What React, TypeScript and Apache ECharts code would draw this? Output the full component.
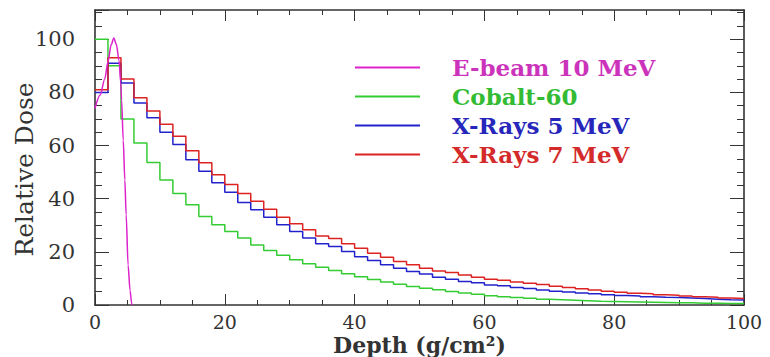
import React, { useEffect, useRef } from "react";
import * as echarts from "echarts";

// ---- data ----
const BIN_WIDTH = 2; // g/cm^2

const seriesNames = ["E-beam 10 MeV", "Cobalt-60", "X-Rays 5 MeV", "X-Rays 7 MeV"];

const ebeamDepth = [0, 0.8, 1.5, 2.0, 2.5, 2.9, 3.3, 3.7, 3.95, 4.1, 4.35, 4.6, 4.8, 5.1, 5.4, 5.65, 5.8];
const ebeamDose = [74, 79, 85, 91.5, 98, 100.5, 98, 92, 84, 77, 62, 47, 34, 15, 5.5, 0.5, 0];

const cobaltDose = [
  100, 90, 70, 61, 53.6, 47, 42, 37.7, 33.3, 30.2,
  27.7, 25.2, 22.6, 20.5, 18.7, 17, 15.5, 14.2, 13, 11.8,
  10.6, 9.6, 8.7, 7.8, 7.0, 6.3, 5.7, 5.1, 4.5, 4.0,
  3.5, 3.1, 2.8, 2.5, 2.2, 2.0, 1.8, 1.6, 1.4, 1.3,
  1.2, 1.1, 1.0, 0.9, 0.8, 0.8, 0.7, 0.7, 0.6, 0.6,
];

const xray5Dose = [
  80, 91, 83.5, 76, 70.5, 65, 60.4, 54.7, 50.3, 46,
  42.4, 38.6, 35.8, 33, 30.2, 27.7, 25.2, 23, 22, 20.1,
  18.2, 16.7, 15.1, 13.8, 12.6, 11.7, 10.4, 9.7, 8.8, 8.4,
  7.5, 7.2, 6.6, 6.2, 5.6, 5.2, 4.9, 4.5, 4.2, 3.9,
  3.6, 3.4, 3.1, 2.9, 2.8, 2.6, 2.4, 2.2, 2.0, 1.9,
];

const xray7Dose = [
  81, 93, 85, 78, 73, 68, 63.5, 58, 53.5, 49,
  45.3, 42, 39, 36, 33, 30.6, 28.3, 26, 25, 23,
  21.4, 19.5, 18, 16.4, 15.1, 13.8, 12.8, 12.2, 11.3, 10.4,
  9.7, 9.3, 8.7, 8.2, 7.7, 7.1, 6.6, 6.1, 5.6, 5.2,
  4.8, 4.4, 4.2, 3.9, 3.7, 3.4, 3.1, 2.9, 2.6, 2.4,
];

const xTicks = [0, 20, 40, 60, 80, 100];
const yTicks = [0, 20, 40, 60, 80, 100];

const colors = ["#dd22cc", "#33cc33", "#2222cc", "#dd2222"];
const textColors = ["#cc33bb", "#33bb33", "#2626bb", "#d42a2a"];

const FONT = "'DejaVu Serif', 'Liberation Serif', serif";
const AXIS_COLOR = "#333333";

function histData(values: number[]) {
  const pts = values.map((v, i) => [i * BIN_WIDTH, v]);
  pts.push([values.length * BIN_WIDTH, values[values.length - 1]]);
  return pts;
}

export default function App() {
  const ref = useRef<HTMLDivElement>(null);
  useEffect(() => {
    document.body.style.margin = "0";
    if (!ref.current) return;
    const chart = echarts.init(ref.current, null, { renderer: "svg" });

    const axisCommon = {
      type: "value" as const,
      axisLine: { show: true, onZero: false, lineStyle: { color: AXIS_COLOR, width: 1.6 } },
      splitLine: { show: false },
    };

    const xMin = xTicks[0];
    const xMax = xTicks[xTicks.length - 1];
    const xInterval = xTicks[1] - xTicks[0];
    const yInterval = yTicks[1] - yTicks[0];

    chart.setOption({
      animation: false,
      backgroundColor: "#ffffff",
      grid: { left: 95, right: 26, top: 10, bottom: 52, containLabel: false, outerBoundsMode: "none" },
      legend: {
        orient: "vertical",
        left: 355,
        top: 56,
        padding: 0,
        icon: "rect",
        itemWidth: 65,
        itemHeight: 2,
        itemGap: 6,
        data: seriesNames.map((n, i) => ({ name: n, textStyle: { color: textColors[i] } })),
        textStyle: {
          fontFamily: FONT,
          fontSize: 23,
          fontWeight: "bold",
          lineHeight: 22,
          padding: [0, 0, 0, 27],
        },
      },
      xAxis: [
        {
          ...axisCommon,
          position: "bottom",
          min: xMin,
          max: xMax,
          interval: xInterval,
          name: "Depth (g/cm²)",
          nameLocation: "middle",
          nameGap: 29,
          nameMoveOverlap: false,
          nameTextStyle: { fontFamily: FONT, fontSize: 22, lineHeight: 22, color: AXIS_COLOR, fontWeight: "bold" },
          axisTick: { show: true, inside: true, length: 11, lineStyle: { color: AXIS_COLOR } },
          minorTick: { show: true, splitNumber: 4, length: 5, lineStyle: { color: AXIS_COLOR } },
          axisLabel: { fontFamily: FONT, fontSize: 19, lineHeight: 19, color: AXIS_COLOR, margin: 7 },
        },
        {
          ...axisCommon,
          position: "top",
          min: xMin,
          max: xMax,
          interval: xInterval,
          axisTick: { show: true, inside: true, length: 11, lineStyle: { color: AXIS_COLOR } },
          minorTick: { show: true, splitNumber: 4, length: 5, lineStyle: { color: AXIS_COLOR } },
          axisLabel: { show: false },
        },
      ],
      yAxis: [
        {
          ...axisCommon,
          position: "left",
          min: 0,
          max: 111,
          interval: yInterval,
          name: "Relative Dose",
          nameLocation: "middle",
          nameGap: 58,
          nameMoveOverlap: false,
          nameTextStyle: {
            fontFamily: FONT,
            fontSize: 25,
            color: AXIS_COLOR,
            padding: [0, 24, 0, 0],
          },
          axisTick: { show: true, inside: true, length: 14, lineStyle: { color: AXIS_COLOR } },
          minorTick: { show: true, splitNumber: 4, length: 7, lineStyle: { color: AXIS_COLOR } },
          axisLabel: { fontFamily: FONT, fontSize: 21, color: AXIS_COLOR, margin: 20, showMaxLabel: false },
        },
        {
          ...axisCommon,
          position: "right",
          min: 0,
          max: 111,
          interval: yInterval,
          axisTick: { show: true, inside: true, length: 14, lineStyle: { color: AXIS_COLOR } },
          minorTick: { show: true, splitNumber: 4, length: 7, lineStyle: { color: AXIS_COLOR } },
          axisLabel: { show: false },
        },
      ],
      series: [
        {
          name: seriesNames[1],
          type: "line",
          step: "end",
          symbol: "none",
          data: histData(cobaltDose),
          lineStyle: { color: colors[1], width: 1.5 },
          itemStyle: { color: colors[1] },
        },
        {
          name: seriesNames[2],
          type: "line",
          step: "end",
          symbol: "none",
          data: histData(xray5Dose),
          lineStyle: { color: colors[2], width: 1.5 },
          itemStyle: { color: colors[2] },
        },
        {
          name: seriesNames[3],
          type: "line",
          step: "end",
          symbol: "none",
          data: histData(xray7Dose),
          lineStyle: { color: colors[3], width: 1.5 },
          itemStyle: { color: colors[3] },
        },
        {
          name: seriesNames[0],
          type: "line",
          symbol: "none",
          smooth: 0.3,
          smoothMonotone: "x",
          data: ebeamDepth.map((d, i) => [d, ebeamDose[i]]),
          lineStyle: { color: colors[0], width: 1.5 },
          itemStyle: { color: colors[0] },
        },
      ],
    });
    return () => chart.dispose();
  }, []);
  return <div ref={ref} style={{ width: 770, height: 357 }} />;
}
